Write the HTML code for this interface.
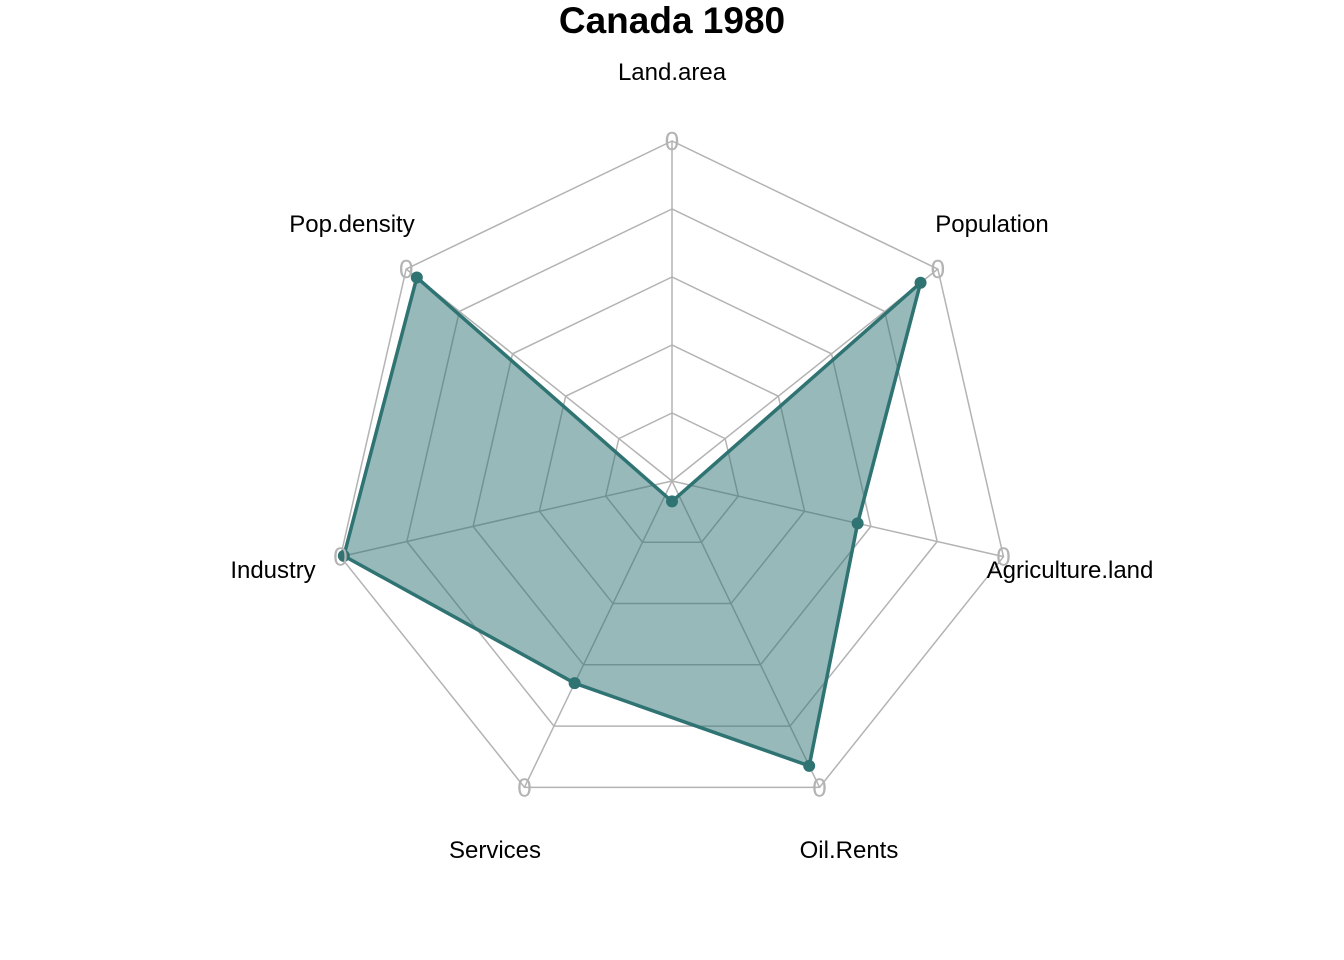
<!DOCTYPE html>
<html><head><meta charset="utf-8"><style>
html,body{margin:0;padding:0;background:#fff;}
svg{display:block;font-family:"Liberation Sans",Arial,sans-serif;}
</style></head><body>
<svg id="chart" width="1344" height="960">
<text x="672" y="33" text-anchor="middle" font-size="37" font-weight="bold">Canada 1980</text>
<g id="grid"></g><g id="series"></g><g id="labels"></g>
</svg>
<script>
const categories = ["Land.area","Pop.density","Industry","Services","Oil.Rents","Agriculture.land","Population"];
const values = [-0.06, 0.96, 0.99, 0.66, 0.93, 0.56, 0.935];
const ringLevels = [0.2, 0.4, 0.6, 0.8, 1.0];
const labelPos = [[672,72],[352,224],[273,570],[495,850],[849,850],[1070,570],[992,224]];
const cx = 672, cy = 481, R = 340;
const NS = "http://www.w3.org/2000/svg";
function ang(i){ return Math.PI/2 + i*2*Math.PI/categories.length; }
function pt(i,r){ return [cx + Math.cos(ang(i))*R*r, cy - Math.sin(ang(i))*R*r]; }
const grid = document.getElementById('grid');
ringLevels.forEach((lv,k)=>{
  const p = document.createElementNS(NS,'polygon');
  p.setAttribute('points', categories.map((c,i)=>pt(i,lv).join(',')).join(' '));
  p.setAttribute('fill','none'); p.setAttribute('stroke','#b3b3b3'); p.setAttribute('stroke-width','1.5');
  
  
  grid.appendChild(p);
});
categories.forEach((c,i)=>{
  const l = document.createElementNS(NS,'line');
  const [x,y] = pt(i,1);
  l.setAttribute('x1',cx); l.setAttribute('y1',cy); l.setAttribute('x2',x); l.setAttribute('y2',y);
  l.setAttribute('stroke','#b3b3b3'); l.setAttribute('stroke-width','1.5');
  
  
  grid.appendChild(l);
});
const ser = document.getElementById('series');
const poly = document.createElementNS(NS,'polygon');
poly.setAttribute('points', values.map((v,i)=>pt(i,v).join(',')).join(' '));
poly.setAttribute('fill','rgba(47,115,115,0.5)'); poly.setAttribute('stroke','#2f7373'); poly.setAttribute('stroke-width','3.5');
poly.setAttribute('stroke-linejoin','round');


ser.appendChild(poly);
values.forEach((v,i)=>{
  const [x,y] = pt(i,v);
  const c = document.createElementNS(NS,'circle');
  c.setAttribute('cx',x); c.setAttribute('cy',y); c.setAttribute('r',6); c.setAttribute('fill','#2f7373');
  
  
  ser.appendChild(c);
});
const lab = document.getElementById('labels');
categories.forEach((c,i)=>{
  const [x,y] = pt(i,1);
  const z = document.createElementNS(NS,'text');
  z.setAttribute('x',x); z.setAttribute('y',y+9); z.setAttribute('text-anchor','middle');
  z.setAttribute('font-size','26'); z.setAttribute('fill','#b3b3b3'); z.textContent='0';
  
  
  lab.appendChild(z);
  const t = document.createElementNS(NS,'text');
  t.setAttribute('x',labelPos[i][0]); t.setAttribute('y',labelPos[i][1]+8);
  t.setAttribute('text-anchor','middle'); t.setAttribute('font-size','24'); t.textContent=c;
  
  
  lab.appendChild(t);
});
</script>
</body></html>
